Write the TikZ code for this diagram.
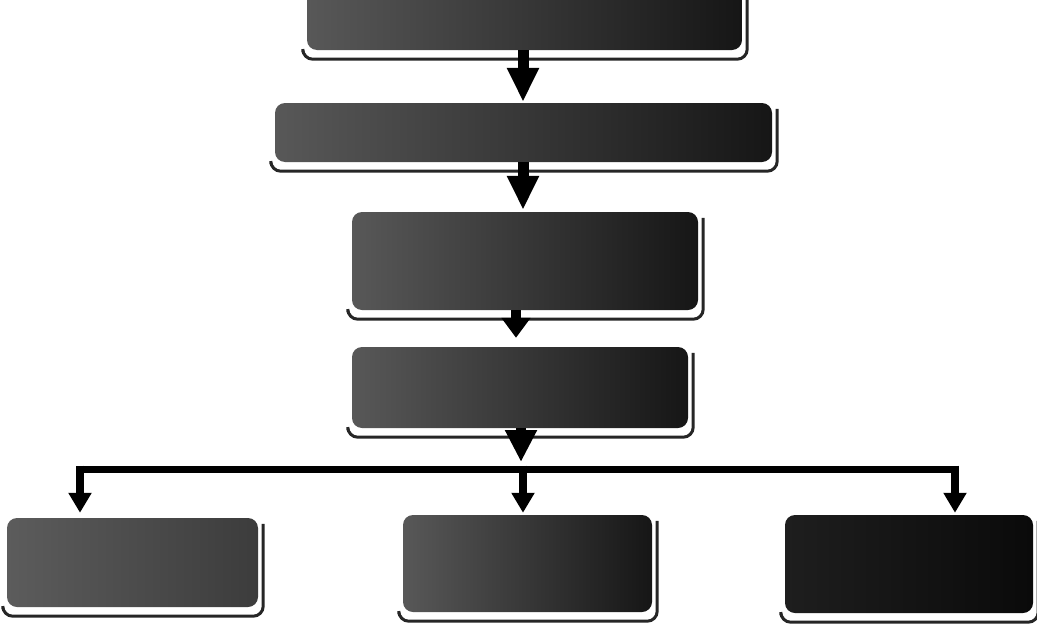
\documentclass[tikz,border=0pt]{standalone}
\usetikzlibrary{arrows.meta,calc}
\definecolor{boxlight}{RGB}{88,88,88}
\definecolor{boxdark}{RGB}{22,22,22}
\definecolor{boxgrey}{RGB}{92,92,92}
\definecolor{boxmid}{RGB}{60,60,60}
\definecolor{boxblack}{RGB}{30,30,30}
\definecolor{boxblacker}{RGB}{10,10,10}
\tikzset{
  box/.style={rounded corners=10pt, inner sep=0pt, left color=boxlight, right color=boxdark},
  shadowline/.style={draw=black!85, line width=3pt, rounded corners=10pt},
  bigarrow/.style={draw=black, line width=11pt, -{Triangle[width=30pt,length=34pt]}},
  midarrow/.style={draw=black, line width=10pt, -{Triangle[width=30pt,length=32pt]}},
  droparrow/.style={draw=black, line width=8pt, -{Triangle[width=22pt,length=20pt]}},
  barline/.style={draw=black, line width=7pt}
}
\newcommand\shadowframe[1]{%
  \draw[shadowline] ([xshift=-4pt,yshift=-2pt]#1.south west) -- ([xshift=-4pt,yshift=-9pt]#1.south west)
     -- ([xshift=5pt,yshift=-9pt]#1.south east) -- ([xshift=5pt,yshift=-6pt]#1.north east);}
\begin{document}
\begin{tikzpicture}[x=1pt,y=-1pt]
\useasboundingbox (0,0) rectangle (1037,632);
\clip (0,0) rectangle (1037,632);
\fill[white] (0,0) rectangle (1037,632);
% boxes
\node[box, minimum width=435pt, minimum height=60pt] (b1) at (524.5,20) {};
\node[box, minimum width=497pt, minimum height=59pt] (b2) at (523.5,132.5) {};
\node[box, minimum width=346pt, minimum height=98pt] (b3) at (525,261) {};
\node[box, minimum width=336pt, minimum height=81pt] (b4) at (520,387.5) {};
\node[box, minimum width=251pt, minimum height=89pt, left color=boxgrey, right color=boxmid] (bL) at (132.5,562.5) {};
\node[box, minimum width=249pt, minimum height=97pt] (bM) at (527.5,563.5) {};
\node[box, minimum width=248pt, minimum height=98pt, left color=boxblack, right color=boxblacker] (bR) at (909,564) {};
% shadow frames
\shadowframe{b1}
\shadowframe{b2}
\shadowframe{b3}
\shadowframe{b4}
\shadowframe{bL}
\shadowframe{bM}
\shadowframe{bR}
% vertical chain
\draw[bigarrow, shorten >=1pt] ([xshift=-1.5pt]b1.south) -- ([xshift=-1.5pt]b1.south |- b2.north);
\draw[bigarrow, shorten >=2pt] ([xshift=-0.5pt]b2.south) -- ([xshift=-0.5pt]b2.south |- b3.north);
\draw[draw=black, line width=10pt, -{Triangle[width=28pt,length=20pt]}, shorten >=9pt] ([xshift=-9pt]b3.south) -- ([xshift=-9pt]b3.south |- b4.north);
% distribution bar
\coordinate (jL) at (80,469);
\coordinate (jM) at (523,469);
\coordinate (jR) at (955,469);
\draw[midarrow, shorten >=7pt] ([xshift=1pt]b4.south) -- ([xshift=1pt]b4.south |- jM);
\draw[barline] ([xshift=-4pt]jL) -- ([xshift=4pt]jR);
\draw[droparrow, shorten >=5pt] ([yshift=3.5pt]jL) -- (jL |- bL.north);
\draw[droparrow, shorten >=2pt] ([yshift=3.5pt]jM) -- (jM |- bM.north);
\draw[droparrow, shorten >=2pt] ([yshift=3.5pt]jR) -- (jR |- bR.north);
\end{tikzpicture}
\end{document}
